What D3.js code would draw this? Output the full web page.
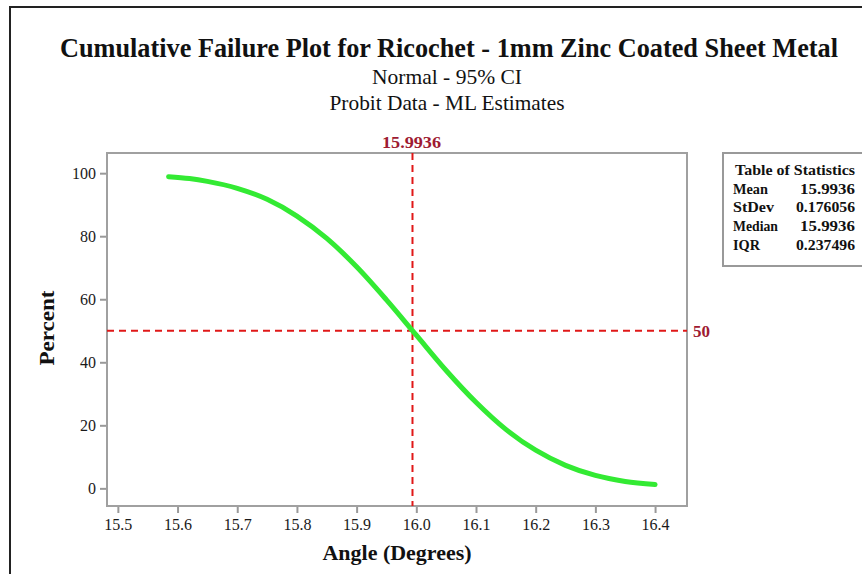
<!DOCTYPE html>
<html>
<head>
<meta charset="utf-8">
<script src="https://cdn.jsdelivr.net/npm/d3@7"></script>
<style>
  html, body { margin: 0; padding: 0; background: #fff; }
  svg { display: block; }
  text { font-family: "Liberation Serif", "Times New Roman", serif; }
</style>
</head>
<body>
<svg id="chart" width="862" height="574"></svg>
<script>
// ---- data ----
const titleText = "Cumulative Failure Plot for Ricochet - 1mm Zinc Coated Sheet Metal";
const subtitleLines = ["Normal - 95% CI", "Probit Data - ML Estimates"];
const xLabel = "Angle (Degrees)";
const yLabel = "Percent";
const xTicks = [15.5, 15.6, 15.7, 15.8, 15.9, 16.0, 16.1, 16.2, 16.3, 16.4];
const yTicks = [0, 20, 40, 60, 80, 100];
const angles   = [15.585, 15.62, 15.65, 15.70, 15.75, 15.80, 15.85, 15.90, 15.95, 16.00, 16.05, 16.10, 16.15, 16.20, 16.25, 16.30, 16.35, 16.40];
const percents = [98.9, 98.3, 97.4, 95.2, 91.7, 86.4, 79.3, 70.3, 59.8, 48.6, 37.4, 27.3, 18.7, 12.1, 7.3, 4.1, 2.2, 1.2];
const refX = 15.9936;
const refY = 50;
const statNames  = ["Mean", "StDev", "Median", "IQR"];
const statValues = ["15.9936", "0.176056", "15.9936", "0.237496"];

// ---- layout ----
const svg = d3.select("#chart");
const plot = { left: 107, right: 687, top: 153, bottom: 506 };
const x = d3.scaleLinear().domain([15.4818, 16.4535]).range([plot.left, plot.right]);
const y = d3.scaleLinear().domain([-5.6, 106.4]).range([plot.bottom, plot.top]);
const darkRed = "#9e1b32";

// outer border
svg.append("path")
  .attr("d", "M10,580 L10,7 L870,7")
  .attr("fill", "none").attr("stroke", "#222").attr("stroke-width", 2);

// titles
svg.append("text").attr("x", 449).attr("y", 57)
  .attr("text-anchor", "middle").attr("font-weight", "bold").attr("font-size", 27)
  .attr("textLength", 778).attr("lengthAdjust", "spacingAndGlyphs")
  .attr("fill", "#111").text(titleText);
const subW = [150, 235];
subtitleLines.forEach((s, i) => {
  svg.append("text").attr("x", 447).attr("y", 84 + i * 26)
    .attr("text-anchor", "middle").attr("font-size", 21)
    .attr("textLength", subW[i]).attr("lengthAdjust", "spacingAndGlyphs")
    .attr("fill", "#111").text(s);
});

// axes
const xAxis = d3.axisBottom(x).tickValues(xTicks).tickFormat(d3.format(".1f")).tickSize(7).tickSizeOuter(0);
const yAxis = d3.axisLeft(y).tickValues(yTicks).tickFormat(d3.format("d")).tickSize(7).tickSizeOuter(0);

const gx = svg.append("g").attr("transform", `translate(0,${plot.bottom})`).call(xAxis);
const gy = svg.append("g").attr("transform", `translate(${plot.left},0)`).call(yAxis);
[gx, gy].forEach(g => {
  g.select(".domain").remove();
  g.selectAll(".tick line").attr("stroke", "#999").attr("stroke-width", 2);
  g.selectAll(".tick text").attr("font-family", "Liberation Serif, serif")
    .attr("font-size", 16).attr("fill", "#1a1a1a");
});
gx.selectAll(".tick text").attr("dy", "0.9em");
gy.selectAll(".tick text").attr("dx", "-1px");

// plot frame
svg.append("rect")
  .attr("x", plot.left).attr("y", plot.top)
  .attr("width", plot.right - plot.left).attr("height", plot.bottom - plot.top)
  .attr("fill", "none").attr("stroke", "#a0a0a0").attr("stroke-width", 2);

// reference lines
svg.append("line")
  .attr("x1", x(refX)).attr("x2", x(refX)).attr("y1", plot.top).attr("y2", plot.bottom)
  .attr("stroke", "#e01818").attr("stroke-width", 2).attr("stroke-dasharray", "7,5");
svg.append("line")
  .attr("x1", plot.left).attr("x2", plot.right).attr("y1", y(refY)).attr("y2", y(refY))
  .attr("stroke", "#e01818").attr("stroke-width", 2).attr("stroke-dasharray", "7,5");

svg.append("text").attr("x", x(refX) - 1).attr("y", 148)
  .attr("text-anchor", "middle").attr("font-weight", "bold").attr("font-size", 17)
  .attr("textLength", 59).attr("lengthAdjust", "spacingAndGlyphs")
  .attr("fill", darkRed).text(d3.format(".4f")(refX));
svg.append("text").attr("x", 693).attr("y", y(refY)).attr("dy", "0.35em")
  .attr("font-weight", "bold").attr("font-size", 17)
  .attr("fill", darkRed).text(refY);

// curve
const pts = angles.map((a, i) => [a, percents[i]]);
svg.append("path")
  .datum(pts)
  .attr("d", d3.line().x(d => x(d[0])).y(d => y(d[1])).curve(d3.curveMonotoneX))
  .attr("fill", "none").attr("stroke", "#33ea33").attr("stroke-width", 5)
  .attr("stroke-linecap", "round");

// axis labels
svg.append("text").attr("x", 397).attr("y", 560)
  .attr("text-anchor", "middle").attr("font-weight", "bold").attr("font-size", 21)
  .attr("textLength", 149).attr("lengthAdjust", "spacingAndGlyphs")
  .attr("fill", "#111").text(xLabel);
svg.append("text").attr("transform", "translate(54,328) rotate(-90)")
  .attr("text-anchor", "middle").attr("font-weight", "bold").attr("font-size", 21)
  .attr("textLength", 75).attr("lengthAdjust", "spacingAndGlyphs")
  .attr("fill", "#111").text(yLabel);

// table of statistics
svg.append("rect").attr("x", 723).attr("y", 153).attr("width", 145).attr("height", 113)
  .attr("fill", "#fff").attr("stroke", "#999").attr("stroke-width", 2);
svg.append("text").attr("x", 795).attr("y", 175)
  .attr("text-anchor", "middle").attr("font-weight", "bold").attr("font-size", 15)
  .attr("textLength", 120).attr("lengthAdjust", "spacingAndGlyphs")
  .attr("fill", "#111").text("Table of Statistics");
const nameW = [35, 41, 45, 27];
const valW = [55, 59, 55, 59];
statNames.forEach((n, i) => {
  const yy = 193.5 + i * 18.7;
  svg.append("text").attr("x", 733).attr("y", yy)
    .attr("font-weight", "bold").attr("font-size", 15)
    .attr("textLength", nameW[i]).attr("lengthAdjust", "spacingAndGlyphs")
    .attr("fill", "#111").text(n);
  svg.append("text").attr("x", 855).attr("y", yy).attr("text-anchor", "end")
    .attr("font-weight", "bold").attr("font-size", 15)
    .attr("textLength", valW[i]).attr("lengthAdjust", "spacingAndGlyphs")
    .attr("fill", "#111").text(statValues[i]);
});
</script>
</body>
</html>
